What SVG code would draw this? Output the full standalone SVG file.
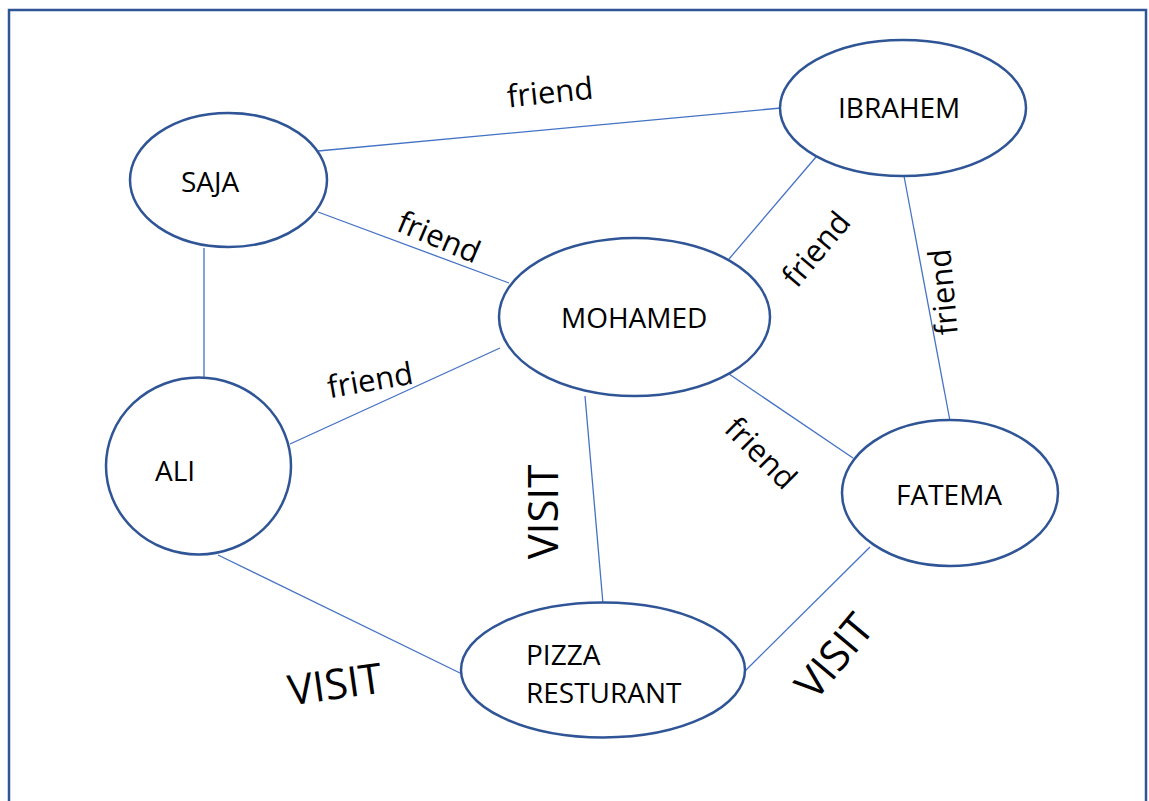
<svg xmlns="http://www.w3.org/2000/svg" width="1149" height="801" viewBox="0 0 1149 801">
  <style>
    .frame { fill: #ffffff; stroke: #2F5597; stroke-width: 2.5; }
    .node { fill: #ffffff; stroke: #2F5597; stroke-width: 2.5; }
    .edge { stroke: #4472C4; stroke-width: 1.3; fill: none; }
    .name { font-family: "Open Sans", "Liberation Sans", sans-serif; font-size: 28px; fill: #000000; }
    .rel { font-family: "Open Sans", "Liberation Sans", sans-serif; font-size: 31px; fill: #000000; text-anchor: middle; }
    .visit { font-family: "Open Sans", "Liberation Sans", sans-serif; font-size: 42px; fill: #000000; text-anchor: middle; }
  </style>

  <rect width="1149" height="801" fill="#ffffff"/>
  <rect class="frame" x="9" y="10" width="1137" height="810"/>

  <!-- relationships -->
  <g id="connectors">
    <line class="edge" x1="318" y1="151" x2="781" y2="108"/>
    <line class="edge" x1="318" y1="212" x2="509" y2="283"/>
    <line class="edge" x1="204" y1="248" x2="204" y2="382"/>
    <line class="edge" x1="290" y1="444" x2="500" y2="348"/>
    <line class="edge" x1="816" y1="157" x2="729" y2="259"/>
    <line class="edge" x1="904" y1="176" x2="950" y2="421"/>
    <line class="edge" x1="729" y1="374" x2="853" y2="458"/>
    <line class="edge" x1="585" y1="396" x2="603" y2="604"/>
    <line class="edge" x1="218" y1="555" x2="462" y2="674"/>
    <line class="edge" x1="870" y1="547" x2="745" y2="671"/>

    <text class="rel" transform="translate(550,92) rotate(-6)" y="11">friend</text>
    <text class="rel" transform="translate(439,237) rotate(23)" y="11">friend</text>
    <text class="rel" transform="translate(370,380) rotate(-10)" y="11">friend</text>
    <text class="rel" transform="translate(816,249) rotate(-50)" y="11">friend</text>
    <text class="rel" transform="translate(943,292) rotate(-95)" y="11">friend</text>
    <text class="rel" transform="translate(761,453) rotate(45)" y="11">friend</text>

    <text class="visit" transform="translate(543,512) rotate(-90)" y="15">VISIT</text>
    <text class="visit" transform="translate(335,684) rotate(-8)" y="15">VISIT</text>
    <text class="visit" transform="translate(834,656) rotate(-50)" y="15">VISIT</text>
  </g>

  <g id="saja">
    <ellipse class="node" cx="228.5" cy="180" rx="98.5" ry="67"/>
    <text class="name" x="181" y="192">SAJA</text>
  </g>
  <g id="ibrahem">
    <ellipse class="node" cx="903" cy="108" rx="123" ry="68"/>
    <text class="name" x="838" y="118">IBRAHEM</text>
  </g>
  <g id="mohamed">
    <ellipse class="node" cx="634.5" cy="317" rx="135.5" ry="79"/>
    <text class="name" x="561" y="328">MOHAMED</text>
  </g>
  <g id="ali">
    <ellipse class="node" cx="198.5" cy="466" rx="92.5" ry="88.5"/>
    <text class="name" x="155" y="481">ALI</text>
  </g>
  <g id="fatema">
    <ellipse class="node" cx="950" cy="493" rx="108" ry="73"/>
    <text class="name" x="896" y="505">FATEMA</text>
  </g>
  <g id="pizza">
    <ellipse class="node" cx="603" cy="670" rx="142" ry="67.5"/>
    <text class="name" x="526" y="665">PIZZA</text>
    <text class="name" x="526" y="703">RESTURANT</text>
  </g>
</svg>
